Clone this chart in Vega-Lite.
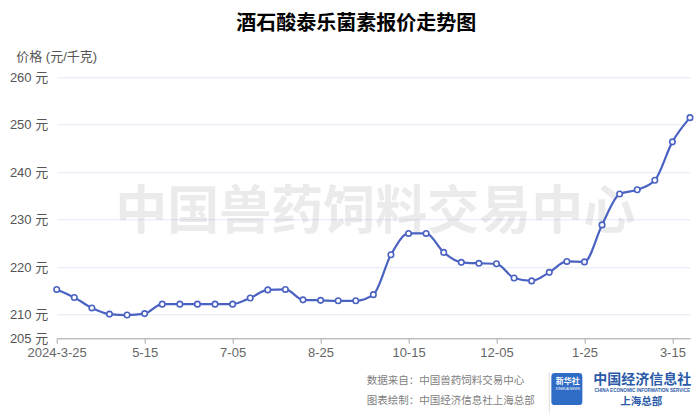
{
  "$schema": "https://vega.github.io/schema/vega-lite/v6.json",
  "autosize": {"type": "none"},
  "width": 633.3,
  "height": 261,
  "padding": {"left": 56.7, "top": 77.3, "right": 10, "bottom": 77.7},
  "background": "white",
  "title": {
    "text": "酒石酸泰乐菌素报价走势图",
    "fontSize": 20,
    "fontWeight": "bold",
    "color": "#000000",
    "anchor": "middle",
    "dx": -17,
    "offset": 16,
    "font": "Noto Sans CJK SC"
  },
  "config": {
    "view": {"stroke": null},
    "font": "Liberation Sans, Noto Sans CJK SC"
  },
  "layer": [
    {
      "data": {"values": [{"watermark": "中国兽药饲料交易中心"}]},
      "mark": {"type": "text", "fontSize": 52, "fontWeight": "bold", "color": "#777777", "opacity": 0.14, "align": "center", "baseline": "middle", "dx": 2, "font": "Noto Sans CJK SC"},
      "encoding": {
        "x": {"datum": "9-25", "type": "ordinal"},
        "y": {"datum": 231.4, "type": "quantitative"},
        "text": {"field": "watermark", "type": "nominal"}
      }
    },
    {
      "data": {"values": [
        {"date": "2024-3-25", "price": 215.3},
        {"date": "4-05", "price": 213.6},
        {"date": "4-15", "price": 211.4},
        {"date": "4-25", "price": 210.1},
        {"date": "5-05", "price": 209.9},
        {"date": "5-15", "price": 210.2},
        {"date": "5-25", "price": 212.2},
        {"date": "6-05", "price": 212.2},
        {"date": "6-15", "price": 212.2},
        {"date": "6-25", "price": 212.2},
        {"date": "7-05", "price": 212.2},
        {"date": "7-15", "price": 213.5},
        {"date": "7-25", "price": 215.2},
        {"date": "8-05", "price": 215.3},
        {"date": "8-15", "price": 213.1},
        {"date": "8-25", "price": 213.0},
        {"date": "9-05", "price": 212.9},
        {"date": "9-15", "price": 212.9},
        {"date": "9-25", "price": 214.2},
        {"date": "10-05", "price": 222.6},
        {"date": "10-15", "price": 227.1},
        {"date": "10-25", "price": 227.1},
        {"date": "11-05", "price": 223.1},
        {"date": "11-15", "price": 221.0},
        {"date": "11-25", "price": 220.8},
        {"date": "12-05", "price": 220.7},
        {"date": "12-15", "price": 217.7},
        {"date": "12-25", "price": 217.1},
        {"date": "1-05", "price": 218.9},
        {"date": "1-15", "price": 221.2},
        {"date": "1-25", "price": 221.1},
        {"date": "2-05", "price": 228.9},
        {"date": "2-15", "price": 235.4},
        {"date": "2-25", "price": 236.3},
        {"date": "3-05", "price": 238.3},
        {"date": "3-15", "price": 246.4},
        {"date": "3-25", "price": 251.5}
      ]},
      "layer": [
        {
          "mark": {"type": "line", "interpolate": "monotone", "color": "#4a62c2", "strokeWidth": 2.2},
          "encoding": {}
        },
        {
          "mark": {"type": "point", "filled": true, "fill": "white", "stroke": "#4a62c2", "strokeWidth": 1.6, "size": 30, "opacity": 1},
          "encoding": {}
        }
      ],
      "encoding": {
        "x": {
          "field": "date",
          "type": "ordinal",
          "scale": {
            "type": "point",
            "padding": 0,
            "domain": ["2024-3-25","4-05","4-15","4-25","5-05","5-15","5-25","6-05","6-15","6-25","7-05","7-15","7-25","8-05","8-15","8-25","9-05","9-15","9-25","10-05","10-15","10-25","11-05","11-15","11-25","12-05","12-15","12-25","1-05","1-15","1-25","2-05","2-15","2-25","3-05","3-15","3-25"]
          },
          "axis": {
            "title": null,
            "values": ["2024-3-25","5-15","7-05","8-25","10-15","12-05","1-25","3-15"],
            "labelAngle": 0,
            "labelAlign": "center",
            "labelBaseline": "top",
            "labelFontSize": 13,
            "labelColor": "#666666",
            "labelPadding": 3,
            "domainColor": "#aaaaaa",
            "tickColor": "#aaaaaa",
            "tickSize": 5,
            "grid": false
          }
        },
        "y": {
          "field": "price",
          "type": "quantitative",
          "scale": {"domain": [205, 260], "nice": false, "zero": false},
          "axis": {
            "title": "价格 (元/千克)",
            "titleAngle": 0,
            "titleAlign": "left",
            "titleBaseline": "middle",
            "titleX": -41,
            "titleY": -21,
            "titleFontSize": 13,
            "titleFontWeight": "normal",
            "titleColor": "#555555",
            "values": [205, 210, 220, 230, 240, 250, 260],
            "labelExpr": "datum.value + ' 元'",
            "labelFontSize": 13,
            "labelColor": "#555555",
            "labelPadding": 9,
            "domain": false,
            "ticks": false,
            "grid": true,
            "gridColor": "#e3e8f4",
            "gridWidth": 1
          }
        }
      }
    },
    {
      "data": {"values": [{"source": "数据来自：中国兽药饲料交易中心", "maker": "图表绘制：中国经济信息社上海总部", "brand": "中国经济信息社", "brandEn": "CHINA ECONOMIC INFORMATION SERVICE", "branch": "上海总部", "logo": "新华社", "logoEn": "XINHUA NEWS"}]},
      "layer": [
        {
          "mark": {"type": "text", "fontSize": 10.5, "color": "#808080", "align": "left", "baseline": "middle", "dx": -6.7, "font": "Noto Sans CJK SC"},
          "encoding": {
            "x": {"datum": "9-25", "type": "ordinal"},
            "y": {"datum": 196.06, "type": "quantitative"},
            "text": {"field": "source", "type": "nominal"}
          }
        },
        {
          "mark": {"type": "text", "fontSize": 10.5, "color": "#808080", "align": "left", "baseline": "middle", "dx": -6.7, "font": "Noto Sans CJK SC"},
          "encoding": {
            "x": {"datum": "9-25", "type": "ordinal"},
            "y": {"datum": 191.72, "type": "quantitative"},
            "text": {"field": "maker", "type": "nominal"}
          }
        },
        {
          "mark": {"type": "rule", "color": "#dddddd", "strokeWidth": 1},
          "encoding": {
            "x": {"datum": "1-05", "type": "ordinal"},
            "y": {"datum": 197.7, "type": "quantitative"},
            "y2": {"datum": 189.3}
          }
        },
        {
          "mark": {"type": "point", "filled": true, "color": "#2f6cc6", "opacity": 1, "size": 961, "shape": "M-0.78,-1.03H0.78Q1,-1.03 1,-0.81V0.81Q1,1.03 0.78,1.03H-0.78Q-1,1.03 -1,0.81V-0.81Q-1,-1.03 -0.78,-1.03Z"},
          "encoding": {
            "x": {"datum": "1-15", "type": "ordinal"},
            "y": {"datum": 194.3, "type": "quantitative"}
          }
        },
        {
          "mark": {"type": "text", "fontSize": 8, "fontWeight": "bold", "color": "white", "align": "center", "baseline": "middle", "dx": 1, "font": "Noto Sans CJK SC"},
          "encoding": {
            "x": {"datum": "1-15", "type": "ordinal"},
            "y": {"datum": 195.85, "type": "quantitative"},
            "text": {"field": "logo", "type": "nominal"}
          }
        },
        {
          "mark": {"type": "text", "fontSize": 3.5, "color": "white", "align": "center", "baseline": "middle", "dx": 1},
          "encoding": {
            "x": {"datum": "1-15", "type": "ordinal"},
            "y": {"datum": 194.35, "type": "quantitative"},
            "text": {"field": "logoEn", "type": "nominal"}
          }
        },
        {
          "mark": {"type": "text", "fontSize": 14, "fontWeight": "bold", "color": "#2b5ba8", "align": "center", "baseline": "middle", "dx": 5, "font": "Noto Sans CJK SC"},
          "encoding": {
            "x": {"datum": "2-25", "type": "ordinal"},
            "y": {"datum": 196.2, "type": "quantitative"},
            "text": {"field": "brand", "type": "nominal"}
          }
        },
        {
          "mark": {"type": "text", "fontSize": 4.6, "fontWeight": "bold", "color": "#2b5ba8", "align": "center", "baseline": "middle", "dx": 5},
          "encoding": {
            "x": {"datum": "2-25", "type": "ordinal"},
            "y": {"datum": 193.96, "type": "quantitative"},
            "text": {"field": "brandEn", "type": "nominal"}
          }
        },
        {
          "mark": {"type": "text", "fontSize": 10.5, "fontWeight": "bold", "color": "#2b5ba8", "align": "center", "baseline": "middle", "dx": 4, "font": "Noto Sans CJK SC"},
          "encoding": {
            "x": {"datum": "2-25", "type": "ordinal"},
            "y": {"datum": 191.64, "type": "quantitative"},
            "text": {"field": "branch", "type": "nominal"}
          }
        }
      ]
    }
  ]
}
